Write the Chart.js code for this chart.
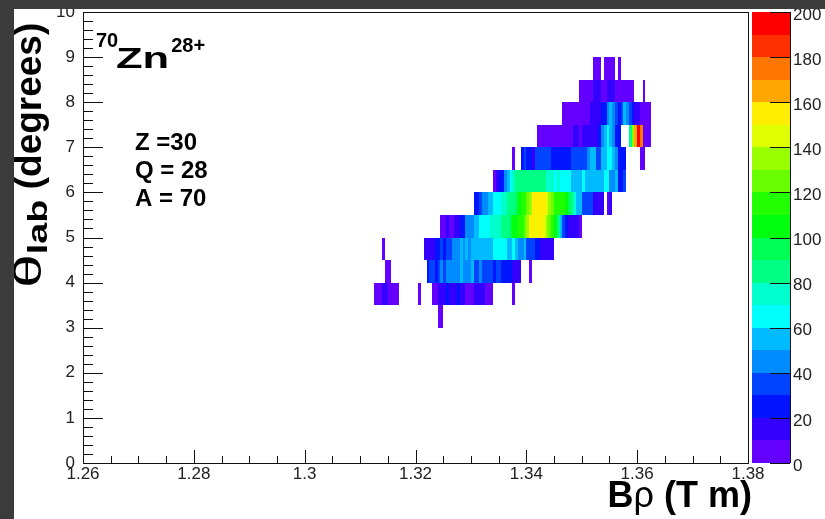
<!DOCTYPE html>
<html>
<head>
<meta charset="utf-8">
<script src="https://cdn.jsdelivr.net/npm/chart.js@4.4.1/dist/chart.umd.min.js"></script>
<style>
  html, body { margin: 0; padding: 0; background: #3b3b3b; }
  #wrap { position: relative; width: 825px; height: 519px; overflow: hidden; }
  #paper { position: absolute; left: 14px; top: 9px; right: 0; bottom: 0; background: #fff; }
  #plot { position: absolute; left: 0; top: 0; }
  .edge { position: absolute; background: #3b3b3b; }
</style>
</head>
<body>
<div id="wrap">
  <div id="paper"></div>
  <canvas id="plot" width="825" height="519"></canvas>
  <div class="edge" style="left:0;top:0;width:825px;height:9px"></div>
  <div class="edge" style="left:0;top:0;width:14px;height:519px"></div>
</div>
<script>
// binning of the Bρ / θ histogram
const X_MIN = 1.26, X_MAX = 1.38, X_BIN = 0.0005;
const Y_MIN = 0, Y_MAX = 10, Y_BIN = 0.5;
const Z_MAX = 200, Z_LEVELS = 20;

const xTicks = [1.26, 1.28, 1.30, 1.32, 1.34, 1.36, 1.38];
const yTicks = [0, 1, 2, 3, 4, 5, 6, 7, 8, 9, 10];
const zTicks = [0, 20, 40, 60, 80, 100, 120, 140, 160, 180, 200];

// lower θ edge of each row, and index of the first Bρ bin stored for it
const rowTheta = [3.0, 3.5, 4.0, 4.5, 5.0, 5.5, 6.0, 6.5, 7.0, 7.5, 8.0, 8.5];
const rowFirstBin = [128, 105, 109, 108, 129, 141, 148, 155, 164, 173, 179, 184];

// counts per Bρ bin, one array per θ row
const counts30 = [5, 5];
const counts35 = [5, 5, 5, 10, 12, 5, 5, 5, 5, 0, 0, 0, 0, 0, 0, 0, 5, 0, 0, 0, 0,
  5, 8, 12, 15, 18, 20, 15, 12, 18, 20, 15, 12, 8, 8, 8, 15, 18, 15, 12, 8, 5, 8,
  0, 0, 0, 0, 0, 0, 0, 5];
const counts40 = [5, 5, 0, 0, 0, 0, 0, 0, 0, 0, 0, 0, 0, 0, 0,
  28, 32, 30, 28, 35, 40, 38, 45, 42, 48, 44, 40, 50, 42, 48, 45, 50,
  38, 35, 40, 36, 38, 30, 32, 28, 32, 30, 22, 25, 20, 24, 15, 12, 14, 0, 0, 0, 5];
const counts45 = [5, 0, 0, 0, 0, 0, 0, 0, 0, 0, 0, 0, 0, 0, 0,
  12, 15, 18, 15, 25, 28, 30, 28, 38, 35, 45, 40, 48, 55, 45, 52, 48, 55,
  52, 56, 50, 58, 54, 52, 56, 62, 65, 60, 68, 64, 58, 55, 60, 56, 48, 45, 50,
  32, 35, 30, 25, 22, 12, 15, 10, 14, 12];
const counts50 = [5, 8, 10, 5, 8, 18, 15, 28, 25, 42, 48, 45, 55, 52, 62, 68, 65, 62,
  72, 75, 78, 74, 82, 85, 88, 95, 100, 105, 112, 118, 125, 132,
  152, 158, 148, 155, 150, 142, 138, 122, 118, 100, 82, 55, 35, 25, 12, 15, 12, 15, 8];
const counts55 = [25, 28, 30, 40, 42, 55, 52, 65, 62, 68, 75, 72, 85, 82, 88, 95, 100,
  112, 118, 125, 135, 152, 158, 155, 150, 156, 145, 132, 128, 115, 110, 118, 112,
  102, 98, 82, 78, 58, 52, 32, 38, 30, 35, 18, 15, 18, 10, 0, 8, 10];
const counts60 = [8, 12, 25, 22, 40, 50, 65, 70, 80, 84, 86, 82, 88, 85, 82, 86, 84, 80, 85,
  78, 76, 70, 68, 72, 62, 65, 60, 64, 52, 55, 50, 54, 62, 52, 55, 50, 56, 52,
  58, 55, 65, 62, 48, 45, 50, 28, 25, 30];
const counts65 = [5, 0, 0, 28, 30, 25, 20, 18, 32, 35, 30, 34, 32, 35,
  22, 28, 20, 25, 28, 22, 26, 32, 35, 30, 34, 32, 35, 45, 50, 55, 35, 38, 50, 52,
  62, 65, 52, 48, 22, 25, 20, 0, 0, 0, 0, 0, 5, 5];
const counts70 = [5, 5, 8, 5, 5, 5, 8, 5, 5, 5, 8, 5, 5, 10, 12, 8, 15, 10, 12, 10, 15, 18,
  28, 45, 55, 62, 55, 45, 28, 25, 0, 0, 0, 85, 130, 165, 195, 175, 8, 5, 8];
const counts75 = [5, 5, 8, 5, 5, 8, 5, 5, 5, 8, 10, 12,
  15, 18, 22, 28, 45, 52, 48, 30, 28, 32, 50, 45, 30, 25, 15, 12, 8, 5, 5, 8];
const counts80 = [5, 5, 8, 5, 5, 12, 15, 12, 8, 5, 12, 15, 12, 8, 5, 5, 8, 5, 5, 5, 0, 0, 0, 5];
const counts85 = [5, 5, 5, 0, 5, 5, 5, 5, 0, 5];

const rowCounts = [counts30, counts35, counts40, counts45, counts50, counts55,
  counts60, counts65, counts70, counts75, counts80, counts85];

// rainbow palette: 50 hues from violet to red, sampled by 20 contour levels
function levelColor(v) {
  const level = Math.min(Z_LEVELS - 1, Math.floor(v / (Z_MAX / Z_LEVELS)));
  const idx = Math.floor((level + 0.99) * 50 / Z_LEVELS);
  const hue = 280 - (idx + 1) * 5.6;
  return 'hsl(' + hue.toFixed(1) + ', 100%, 50%)';
}

const cells = [];
rowCounts.forEach((row, r) => {
  row.forEach((v, j) => {
    if (v <= 0) return;
    cells.push({
      x: X_MIN + (rowFirstBin[r] + j + 0.5) * X_BIN,
      y: rowTheta[r] + Y_BIN / 2,
      v: v
    });
  });
});

const FONT = "'Liberation Sans', Arial, Helvetica, sans-serif";
const INK = '#111';

// draws a piece of text squeezed or widened along its baseline, returns its advance
function stretchedText(ctx, text, x, y, font, sx) {
  ctx.save();
  ctx.font = font;
  ctx.translate(x, y);
  ctx.scale(sx, 1);
  ctx.fillText(text, 0, 0);
  const w = ctx.measureText(text).width * sx;
  ctx.restore();
  return w;
}

// histogram cells and the colour bar
const colzPlugin = {
  id: 'colz',
  beforeDatasetsDraw(chart) {
    const { ctx, scales: { x, y, z } } = chart;
    ctx.save();
    chart.data.datasets[0].data.forEach((p) => {
      const x0 = Math.round(x.getPixelForValue(p.x - X_BIN / 2));
      const x1 = Math.round(x.getPixelForValue(p.x + X_BIN / 2));
      const y0 = Math.round(y.getPixelForValue(p.y + Y_BIN / 2));
      const y1 = Math.round(y.getPixelForValue(p.y - Y_BIN / 2));
      ctx.fillStyle = levelColor(p.v);
      ctx.fillRect(x0, y0, x1 - x0, y1 - y0);
    });

    const pl = z.left + 4, pr = z.left + 42;
    const step = Z_MAX / Z_LEVELS;
    for (let i = 0; i < Z_LEVELS; i++) {
      const top = Math.round(z.getPixelForValue((i + 1) * step));
      const bot = Math.round(z.getPixelForValue(i * step));
      ctx.fillStyle = levelColor(i * step + step / 2);
      ctx.fillRect(pl, top, pr - pl, bot - top);
    }
    ctx.restore();
  },
  afterDraw(chart) {
    const { ctx, chartArea: a, scales: { x, y, z } } = chart;
    ctx.save();
    ctx.strokeStyle = INK;
    ctx.lineWidth = 1;

    // frame
    ctx.strokeRect(Math.round(a.left) + 0.5, Math.round(a.top) + 0.5,
      Math.round(a.right - a.left), Math.round(a.bottom - a.top));

    ctx.beginPath();
    // y ticks point inward
    for (let t = 0; t <= 50; t++) {
      const val = t * 0.2;
      const py = Math.round(y.getPixelForValue(val)) + 0.5;
      const len = t % 5 === 0 ? 20 : 10;
      ctx.moveTo(a.left, py);
      ctx.lineTo(a.left + len, py);
    }
    // x ticks point inward
    for (let t = 0; t <= 24; t++) {
      const val = X_MIN + t * 0.005;
      const px = Math.round(x.getPixelForValue(val)) + 0.5;
      const len = t % 4 === 0 ? 13 : 7;
      ctx.moveTo(px, a.bottom);
      ctx.lineTo(px, a.bottom - len);
    }
    // colour bar axis and ticks
    const pr = z.left + 42;
    ctx.moveTo(pr + 0.5, a.top);
    ctx.lineTo(pr + 0.5, a.bottom);
    zTicks.forEach((t) => {
      const py = Math.round(z.getPixelForValue(t)) + 0.5;
      ctx.moveTo(pr - 20, py);
      ctx.lineTo(pr, py);
    });
    ctx.stroke();

    ctx.fillStyle = '#000';
    ctx.textBaseline = 'alphabetic';

    // x title: Bρ (T m), right aligned to the axis end
    const bold36 = 'bold 36px ' + FONT;
    const reg36 = '36px ' + FONT;
    ctx.font = bold36;
    const wB = ctx.measureText('B').width;
    const wT = ctx.measureText(' (T m)').width;
    ctx.font = reg36;
    const wR = ctx.measureText('ρ').width;
    let tx = a.right + 4 - (wB + wR + wT);
    ctx.font = bold36;
    ctx.fillText('B', tx, 507);
    tx += wB;
    ctx.font = reg36;
    ctx.fillText('ρ', tx, 507);
    tx += wR;
    ctx.font = bold36;
    ctx.fillText(' (T m)', tx, 507);

    // y title: θ_lab (degrees), reading upward
    ctx.save();
    ctx.translate(41, 288);
    ctx.rotate(-Math.PI / 2);
    let s = 0;
    s += stretchedText(ctx, 'θ', s, 0, '38px ' + FONT, 1.6);
    s += stretchedText(ctx, 'lab', s, 6, 'bold 28px ' + FONT, 1.35);
    stretchedText(ctx, ' (degrees)', s, 0, 'bold 37px ' + FONT, 1.0);
    ctx.restore();

    // ion label
    ctx.font = 'bold 20px ' + FONT;
    ctx.fillText('70', 96, 47);
    const wZn = stretchedText(ctx, 'Zn', 116, 68, 'bold 30px ' + FONT, 1.45);
    ctx.font = 'bold 20px ' + FONT;
    ctx.fillText('28+', 116 + wZn + 2, 52);

    ctx.font = 'bold 24px ' + FONT;
    ctx.fillText('Z =30', 135, 150);
    ctx.fillText('Q = 28', 135, 178);
    ctx.fillText('A = 70', 135, 206);
    ctx.restore();
  }
};

function fixedTicks(list) {
  return (scale) => { scale.ticks = list.map((v) => ({ value: v })); };
}

const tickFont = { family: FONT, size: 17 };

new Chart(document.getElementById('plot'), {
  type: 'scatter',
  data: {
    datasets: [{
      label: 'counts',
      data: cells,
      pointRadius: 0,
      pointHoverRadius: 0
    }]
  },
  options: {
    responsive: false,
    animation: false,
    events: [],
    layout: { padding: { left: 0, top: 12, right: 0, bottom: 0 } },
    plugins: { legend: { display: false }, tooltip: { enabled: false } },
    scales: {
      x: {
        type: 'linear',
        position: 'bottom',
        min: X_MIN,
        max: X_MAX,
        afterBuildTicks: fixedTicks(xTicks),
        afterFit: (s) => { s.height = 56; },
        grid: { display: false, drawTicks: false },
        border: { display: false },
        ticks: {
          autoSkip: false,
          maxRotation: 0,
          padding: 1,
          color: '#222',
          font: tickFont,
          callback: (v) => String(+v.toFixed(2))
        }
      },
      y: {
        type: 'linear',
        position: 'left',
        min: Y_MIN,
        max: Y_MAX,
        afterBuildTicks: fixedTicks(yTicks),
        afterFit: (s) => { s.width = 83; },
        // tickLength only offsets the labels; the marks themselves are drawn inward by the plugin
        grid: { display: false, drawTicks: true, tickLength: 7 },
        border: { display: false },
        ticks: { autoSkip: false, padding: 1, color: '#222', font: tickFont }
      },
      z: {
        type: 'linear',
        axis: 'y',
        position: 'right',
        min: 0,
        max: Z_MAX,
        afterBuildTicks: fixedTicks(zTicks),
        afterFit: (s) => { s.width = 77; },
        grid: { display: false, drawTicks: true, tickLength: 44 },
        border: { display: false },
        ticks: { autoSkip: false, padding: 1, labelOffset: 3, color: '#222', font: tickFont }
      }
    }
  },
  plugins: [colzPlugin]
});
</script>
</body>
</html>
